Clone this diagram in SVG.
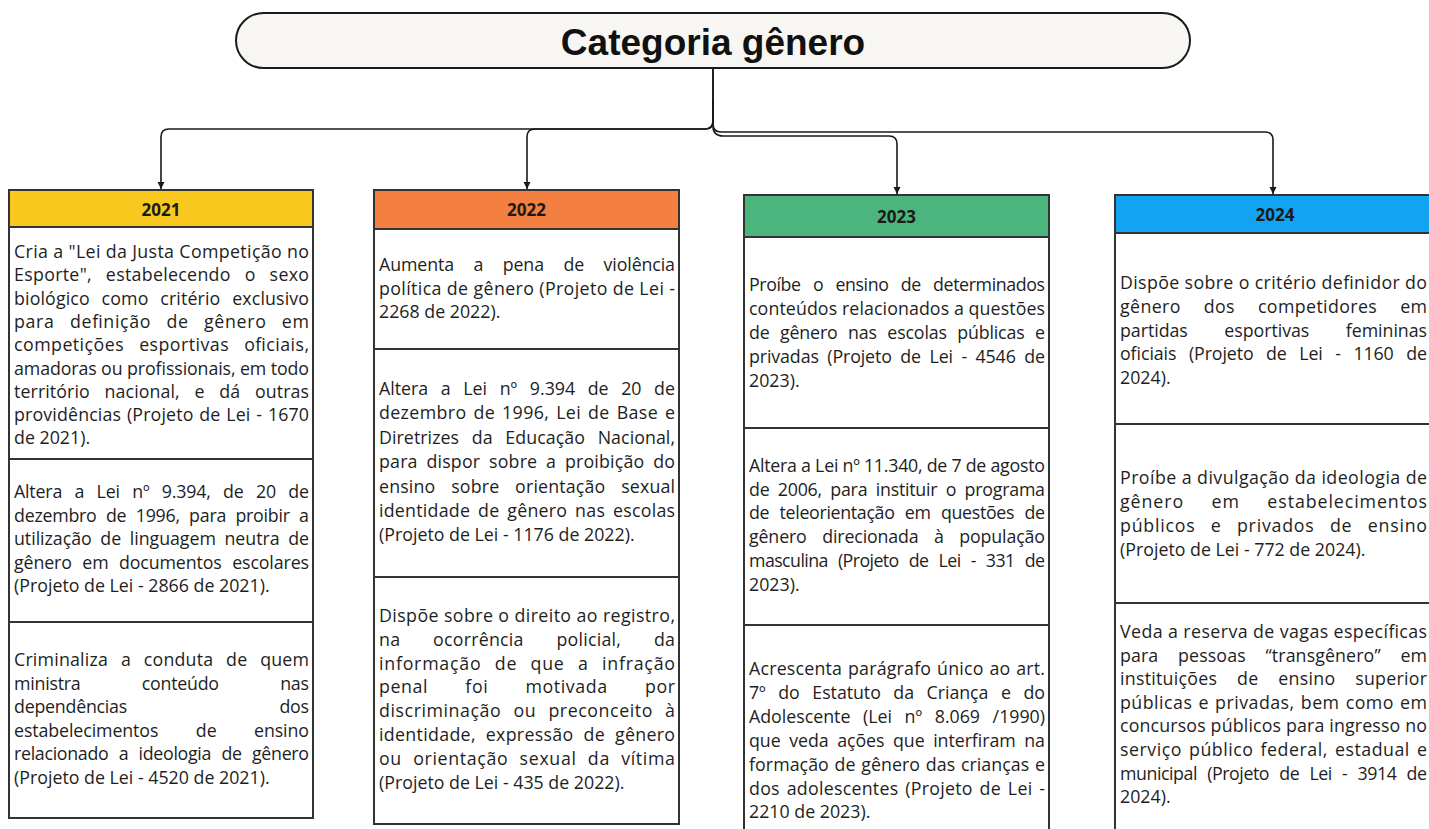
<svg xmlns="http://www.w3.org/2000/svg" width="1429" height="829" viewBox="0 0 1429 829">
<defs>
<marker id="arr" markerUnits="userSpaceOnUse" markerWidth="8" markerHeight="8" refX="7" refY="4" orient="auto">
<path d="M0,0.5 L7,4 L0,7.5 z" fill="#1a1a1a"/>
</marker>
<style>
.title{font-family:"Liberation Sans",Arial,sans-serif;font-weight:bold;font-size:37px;fill:#111;}
.hd{font-family:"Open Sans","DejaVu Sans",sans-serif;font-weight:bold;font-size:17px;fill:#1a1a1a;}
.t{font-family:"Open Sans","DejaVu Sans",sans-serif;font-size:17.8px;fill:#1e1e1e;}
.cell{fill:#fff;stroke:#333;stroke-width:2;}
.conn{fill:none;stroke:#1a1a1a;stroke-width:1.6;}
</style>
</defs>
<rect width="1429" height="829" fill="#fff"/>

<g id="connectors">
<path class="conn" d="M713,68 V121 Q713,129 705,129 H169 Q161,129 161,137 V189" marker-end="url(#arr)"/>
<path class="conn" d="M713,68 V121 Q713,129 705,129 H535 Q527,129 527,137 V189" marker-end="url(#arr)"/>
<path class="conn" d="M713,100 V126 Q713,136 723,136 H889 Q897,136 897,144 V194" marker-end="url(#arr)"/>
<path class="conn" d="M713,100 V124 Q713,132 721,132 H1265 Q1273,132 1273,140 V194" marker-end="url(#arr)"/>
</g>

<g id="title">
<rect x="236" y="13" width="954" height="55" rx="27.5" fill="#f7f6f3" stroke="#1a1a1a" stroke-width="2"/>
<text class="title" x="713" y="55" text-anchor="middle">Categoria gênero</text>
</g>

<g id="col2021">
<rect x="9" y="190" width="304" height="37" fill="#f8c81e" stroke="#333" stroke-width="2"/>
<text class="hd" x="161" y="216" text-anchor="middle">2021</text>
<rect class="cell" x="9" y="227" width="304" height="232"/>
<rect class="cell" x="9" y="459" width="304" height="163"/>
<rect class="cell" x="9" y="622" width="304" height="196"/>
<text class="t" x="14" y="258" textLength="295" lengthAdjust="spacing">Cria a "Lei da Justa Competição no</text>
<text class="t" x="14" y="281.3" textLength="295" lengthAdjust="spacing" style="word-spacing:9px">Esporte", estabelecendo o sexo</text>
<text class="t" x="14" y="304.6" textLength="295" lengthAdjust="spacing" style="word-spacing:7px">biológico como critério exclusivo</text>
<text class="t" x="14" y="327.9" textLength="295" lengthAdjust="spacing" style="word-spacing:10px">para definição de gênero em</text>
<text class="t" x="14" y="351.2" textLength="295" lengthAdjust="spacing" style="word-spacing:10px">competições esportivas oficiais,</text>
<text class="t" x="14" y="374.5" textLength="295" lengthAdjust="spacing">amadoras ou profissionais, em todo</text>
<text class="t" x="14" y="397.8" textLength="295" lengthAdjust="spacing" style="word-spacing:10px">território nacional, e dá outras</text>
<text class="t" x="14" y="421.1" textLength="295" lengthAdjust="spacing" style="word-spacing:1px">providências (Projeto de Lei - 1670</text>
<text class="t" x="14" y="444.4">de 2021).</text>
<text class="t" x="14" y="498" textLength="295" lengthAdjust="spacing" style="word-spacing:8px">Altera a Lei nº 9.394, de 20 de</text>
<text class="t" x="14" y="521.5" textLength="295" lengthAdjust="spacing" style="word-spacing:5px">dezembro de 1996, para proibir a</text>
<text class="t" x="14" y="545" textLength="295" lengthAdjust="spacing" style="word-spacing:4px">utilização de linguagem neutra de</text>
<text class="t" x="14" y="568.5" textLength="295" lengthAdjust="spacing" style="word-spacing:6px">gênero em documentos escolares</text>
<text class="t" x="14" y="592">(Projeto de Lei - 2866 de 2021).</text>
<text class="t" x="14" y="666" textLength="295" lengthAdjust="spacing" style="word-spacing:8px">Criminaliza a conduta de quem</text>
<text class="t" x="14" y="689.5" textLength="295" lengthAdjust="spacing" style="word-spacing:57px">ministra conteúdo nas</text>
<text class="t" x="14" y="713" textLength="295" lengthAdjust="spacing" style="word-spacing:148px">dependências dos</text>
<text class="t" x="14" y="736.5" textLength="295" lengthAdjust="spacing" style="word-spacing:33px">estabelecimentos de ensino</text>
<text class="t" x="14" y="760" textLength="295" lengthAdjust="spacing" style="word-spacing:6px">relacionado a ideologia de gênero</text>
<text class="t" x="14" y="783.5">(Projeto de Lei - 4520 de 2021).</text>
</g>

<g id="col2022">
<rect x="374" y="190" width="305" height="39" fill="#f37f40" stroke="#333" stroke-width="2"/>
<text class="hd" x="526.5" y="216" text-anchor="middle">2022</text>
<rect class="cell" x="374" y="229" width="305" height="120"/>
<rect class="cell" x="374" y="349" width="305" height="228"/>
<rect class="cell" x="374" y="577" width="305" height="247"/>
<text class="t" x="379" y="271" textLength="296" lengthAdjust="spacing" style="word-spacing:15px">Aumenta a pena de violência</text>
<text class="t" x="379" y="294.5" textLength="296" lengthAdjust="spacing">política de gênero (Projeto de Lei -</text>
<text class="t" x="379" y="318">2268 de 2022).</text>
<text class="t" x="379" y="395" textLength="296" lengthAdjust="spacing" style="word-spacing:8px">Altera a Lei nº 9.394 de 20 de</text>
<text class="t" x="379" y="419.4" textLength="296" lengthAdjust="spacing" style="word-spacing:2px">dezembro de 1996, Lei de Base e</text>
<text class="t" x="379" y="443.8" textLength="296" lengthAdjust="spacing" style="word-spacing:8px">Diretrizes da Educação Nacional,</text>
<text class="t" x="379" y="468.2" textLength="296" lengthAdjust="spacing" style="word-spacing:4px">para dispor sobre a proibição do</text>
<text class="t" x="379" y="492.6" textLength="296" lengthAdjust="spacing" style="word-spacing:11px">ensino sobre orientação sexual</text>
<text class="t" x="379" y="517" textLength="296" lengthAdjust="spacing" style="word-spacing:3px">identidade de gênero nas escolas</text>
<text class="t" x="379" y="541.4">(Projeto de Lei - 1176 de 2022).</text>
<text class="t" x="379" y="622" textLength="296" lengthAdjust="spacing">Dispõe sobre o direito ao registro,</text>
<text class="t" x="379" y="645.8" textLength="296" lengthAdjust="spacing" style="word-spacing:28px">na ocorrência policial, da</text>
<text class="t" x="379" y="669.6" textLength="296" lengthAdjust="spacing" style="word-spacing:8px">informação de que a infração</text>
<text class="t" x="379" y="693.4" textLength="296" lengthAdjust="spacing" style="word-spacing:32px">penal foi motivada por</text>
<text class="t" x="379" y="717.2" textLength="296" lengthAdjust="spacing" style="word-spacing:7px">discriminação ou preconceito à</text>
<text class="t" x="379" y="741" textLength="296" lengthAdjust="spacing" style="word-spacing:5px">identidade, expressão de gênero</text>
<text class="t" x="379" y="764.8" textLength="296" lengthAdjust="spacing" style="word-spacing:6px">ou orientação sexual da vítima</text>
<text class="t" x="379" y="788.6">(Projeto de Lei - 435 de 2022).</text>
</g>

<g id="col2023">
<rect x="744" y="195" width="305" height="42" fill="#4cb57e" stroke="#333" stroke-width="2"/>
<text class="hd" x="896.5" y="223" text-anchor="middle">2023</text>
<rect class="cell" x="744" y="237" width="305" height="191"/>
<rect class="cell" x="744" y="428" width="305" height="197"/>
<rect class="cell" x="744" y="625" width="305" height="215"/>
<text class="t" x="749" y="291" textLength="296" lengthAdjust="spacing" style="word-spacing:8px">Proíbe o ensino de determinados</text>
<text class="t" x="749" y="314.9" textLength="296" lengthAdjust="spacing">conteúdos relacionados a questões</text>
<text class="t" x="749" y="338.8" textLength="296" lengthAdjust="spacing" style="word-spacing:6px">de gênero nas escolas públicas e</text>
<text class="t" x="749" y="362.7" textLength="296" lengthAdjust="spacing" style="word-spacing:4px">privadas (Projeto de Lei - 4546 de</text>
<text class="t" x="749" y="386.6">2023).</text>
<text class="t" x="749" y="472" textLength="296" lengthAdjust="spacing">Altera a Lei nº 11.340, de 7 de agosto</text>
<text class="t" x="749" y="495.7" textLength="296" lengthAdjust="spacing" style="word-spacing:4px">de 2006, para instituir o programa</text>
<text class="t" x="749" y="519.4" textLength="296" lengthAdjust="spacing" style="word-spacing:6px">de teleorientação em questões de</text>
<text class="t" x="749" y="543.1" textLength="296" lengthAdjust="spacing" style="word-spacing:11px">gênero direcionada à população</text>
<text class="t" x="749" y="566.8" textLength="296" lengthAdjust="spacing" style="word-spacing:6px">masculina (Projeto de Lei - 331 de</text>
<text class="t" x="749" y="590.5">2023).</text>
<text class="t" x="749" y="675" textLength="296" lengthAdjust="spacing" style="word-spacing:1px">Acrescenta parágrafo único ao art.</text>
<text class="t" x="749" y="698.9" textLength="296" lengthAdjust="spacing" style="word-spacing:8px">7º do Estatuto da Criança e do</text>
<text class="t" x="749" y="722.8" textLength="296" lengthAdjust="spacing" style="word-spacing:8px">Adolescente (Lei nº 8.069 /1990)</text>
<text class="t" x="749" y="746.7" textLength="296" lengthAdjust="spacing" style="word-spacing:4px">que veda ações que interfiram na</text>
<text class="t" x="749" y="770.6" textLength="296" lengthAdjust="spacing" style="word-spacing:1px">formação de gênero das crianças e</text>
<text class="t" x="749" y="794.5" textLength="296" lengthAdjust="spacing" style="word-spacing:2px">dos adolescentes (Projeto de Lei -</text>
<text class="t" x="749" y="818.4">2210 de 2023).</text>
</g>

<g id="col2024">
<rect x="1115" y="195" width="320" height="38" fill="#12a3f3" stroke="#333" stroke-width="2"/>
<text class="hd" x="1275" y="221" text-anchor="middle">2024</text>
<rect class="cell" x="1115" y="233" width="320" height="191"/>
<rect class="cell" x="1115" y="424" width="320" height="179"/>
<rect class="cell" x="1115" y="603" width="320" height="237"/>
<text class="t" x="1120" y="289" textLength="307" lengthAdjust="spacing">Dispõe sobre o critério definidor do</text>
<text class="t" x="1120" y="312.8" textLength="307" lengthAdjust="spacing" style="word-spacing:18px">gênero dos competidores em</text>
<text class="t" x="1120" y="336.6" textLength="307" lengthAdjust="spacing" style="word-spacing:32px">partidas esportivas femininas</text>
<text class="t" x="1120" y="360.4" textLength="307" lengthAdjust="spacing" style="word-spacing:8px">oficiais (Projeto de Lei - 1160 de</text>
<text class="t" x="1120" y="384.2">2024).</text>
<text class="t" x="1120" y="484" textLength="307" lengthAdjust="spacing">Proíbe a divulgação da ideologia de</text>
<text class="t" x="1120" y="508" textLength="307" lengthAdjust="spacing" style="word-spacing:22px">gênero em estabelecimentos</text>
<text class="t" x="1120" y="532" textLength="307" lengthAdjust="spacing" style="word-spacing:10px">públicos e privados de ensino</text>
<text class="t" x="1120" y="556">(Projeto de Lei - 772 de 2024).</text>
<text class="t" x="1120" y="638" textLength="307" lengthAdjust="spacing">Veda a reserva de vagas específicas</text>
<text class="t" x="1120" y="661.6" textLength="307" lengthAdjust="spacing" style="word-spacing:15px">para pessoas “transgênero” em</text>
<text class="t" x="1120" y="685.2" textLength="307" lengthAdjust="spacing" style="word-spacing:15px">instituições de ensino superior</text>
<text class="t" x="1120" y="708.8" textLength="307" lengthAdjust="spacing" style="word-spacing:1px">públicas e privadas, bem como em</text>
<text class="t" x="1120" y="732.4" textLength="307" lengthAdjust="spacing">concursos públicos para ingresso no</text>
<text class="t" x="1120" y="756" textLength="307" lengthAdjust="spacing" style="word-spacing:2px">serviço público federal, estadual e</text>
<text class="t" x="1120" y="779.6" textLength="307" lengthAdjust="spacing" style="word-spacing:6px">municipal (Projeto de Lei - 3914 de</text>
<text class="t" x="1120" y="803.2">2024).</text>
</g>
</svg>
